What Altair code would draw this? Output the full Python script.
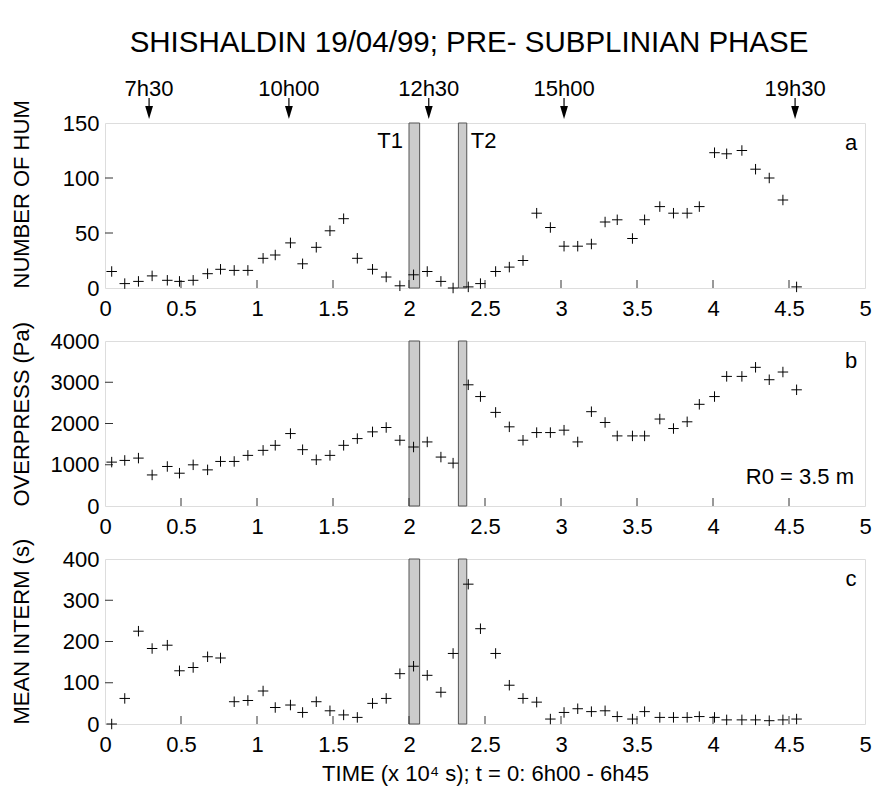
import altair as alt
import pandas as pd

title_text = "SHISHALDIN 19/04/99; PRE- SUBPLINIAN PHASE"
x_title = "TIME (x 10\u2074 s); t = 0: 6h00 - 6h45"

time_x = [0.044, 0.13, 0.22, 0.31, 0.41, 0.49, 0.58, 0.675, 0.76, 0.85,
          0.94, 1.04, 1.12, 1.22, 1.30, 1.39, 1.48, 1.57, 1.66, 1.76,
          1.85, 1.94, 2.03, 2.12, 2.21, 2.29, 2.39, 2.47, 2.57, 2.66,
          2.75, 2.84, 2.93, 3.02, 3.11, 3.20, 3.29, 3.37, 3.47, 3.55,
          3.65, 3.74, 3.83, 3.91, 4.01, 4.09, 4.19, 4.28, 4.37, 4.46,
          4.55]
n_hum = [15, 4, 6, 11, 7, 6, 7, 13, 17, 16,
         16, 27, 30, 41, 22, 37, 52, 63, 27, 17,
         10, 2, 12, 15, 6, 0, 1, 4, 15, 19,
         25, 68, 55, 38, 38, 40, 60, 62, 45, 62,
         74, 68, 68, 74, 123, 122, 125, 108, 100, 80,
         1]
overpress = [1064, 1105, 1161, 753, 958, 795, 998, 876, 1080, 1080,
             1227, 1349, 1471, 1756, 1365, 1120, 1227, 1471, 1634, 1797,
             1903, 1594, 1430, 1553, 1186, 1039, 2938, 2653, 2269, 1919,
             1594, 1780, 1780, 1838, 1553, 2286, 2025, 1699, 1699, 1699,
             2108, 1878, 2041, 2465, 2653, 3142, 3142, 3362, 3061, 3248,
             2817]
mean_interm = [0, 62, 225, 183, 191, 129, 137, 163, 160, 54,
               57, 80, 40, 46, 28, 54, 32, 22, 16, 50,
               62, 122, 140, 118, 77, 171, 339, 231, 171, 94,
               62, 53, 12, 28, 37, 30, 32, 18, 12, 30,
               16, 16, 16, 18, 16, 10, 10, 10, 8, 10,
               12]

band_start = [2.00, 2.325]
band_end = [2.07, 2.38]
band_names = ["T1", "T2"]
arrow_t = [0.29, 1.21, 2.13, 3.02, 4.54]
arrow_lbl = ["7h30", "10h00", "12h30", "15h00", "19h30"]
x_tick_vals = [0.5, 1, 1.5, 2, 2.5, 3, 3.5, 4, 4.5]
x_label_vals = [0, 0.5, 1, 1.5, 2, 2.5, 3, 3.5, 4, 4.5, 5]

FONT = "Liberation Sans"
W, H = 760, 165
PLUS = "M-1,0L1,0M0,-1L0,1"
ARROWHEAD = "M-0.6,-1L0.6,-1L0,1Z"
FS = 22

xscale = alt.Scale(domain=[0, 5], nice=False, zero=False)
one = pd.DataFrame({"a": [0]})
bands_df = pd.DataFrame({"s": band_start, "e": band_end, "n": band_names})
xt_df = pd.DataFrame({"t": x_tick_vals})


def x_axis(title):
    kw = dict(values=x_label_vals, ticks=False, domain=False, grid=False,
              labelFontSize=FS, labelFont=FONT, labelColor="black",
              labelPadding=10, labelFlush=False, labelOverlap=False, format="~g")
    if title:
        kw.update(title=title, titleFontSize=FS, titleFont=FONT,
                  titleFontWeight="normal", titleColor="black", titlePadding=8)
    else:
        kw["title"] = None
    return alt.Axis(**kw)


def y_axis(vals, title):
    return alt.Axis(values=vals, ticks=False, domain=False, grid=False,
                    labelFontSize=FS, labelFont=FONT, labelColor="black",
                    labelPadding=6, format="d",
                    title=title, titleFontSize=FS, titleFont=FONT,
                    titleFontWeight="normal", titleColor="black",
                    titleAngle=270, titleX=-84, titleY=H,
                    titleAlign="left", titleBaseline="middle")


def panel(values, ymax, ylabels, yticks, ytitle, letter, xtitle=None, top=False):
    xa = x_axis(xtitle)
    ya = y_axis(ylabels, ytitle)
    yscale = alt.Scale(domain=[0, ymax], nice=False, zero=True)

    def X(f):
        return alt.X(f, type="quantitative", scale=xscale, axis=xa)

    df = pd.DataFrame({"t": time_x, "v": values})
    bands = alt.Chart(bands_df).mark_rect(
        fill="#cccccc", stroke="#555555", strokeWidth=1
    ).encode(x=X("s"), x2="e:Q", y=alt.value(0), y2=alt.value(H))
    xt = alt.Chart(xt_df).mark_rule(color="#333333", strokeWidth=1).encode(
        x=X("t"), y=alt.value(H), y2=alt.value(H - 8))
    yt = alt.Chart(pd.DataFrame({"v": yticks})).mark_rule(
        color="#333333", strokeWidth=1).encode(
        y=alt.Y("v:Q", scale=yscale, axis=ya), x=alt.value(0), x2=alt.value(8))
    pts = alt.Chart(df).mark_point(
        shape=PLUS, size=110, filled=False, stroke="black", strokeWidth=1, opacity=1
    ).encode(x=X("t"), y=alt.Y("v:Q", scale=yscale, axis=ya))
    let = alt.Chart(one).mark_text(
        text=letter, font=FONT, fontSize=FS, align="center", baseline="alphabetic",
        color="black").encode(x=alt.value(746), y=alt.value(27))
    layers = [bands, xt, yt, pts, let]
    if top:
        t1 = alt.Chart(pd.DataFrame({"s": band_start[:1], "n": band_names[:1]})).mark_text(
            font=FONT, fontSize=FS, align="right", baseline="alphabetic", dx=-6, color="black"
        ).encode(x=X("s"), y=alt.value(25), text="n:N")
        t2 = alt.Chart(pd.DataFrame({"e": band_end[1:], "n": band_names[1:]})).mark_text(
            font=FONT, fontSize=FS, align="left", baseline="alphabetic", dx=4, color="black"
        ).encode(x=X("e"), y=alt.value(25), text="n:N")
        adf = pd.DataFrame({"t": arrow_t, "lbl": arrow_lbl})
        albl = alt.Chart(adf).mark_text(
            font=FONT, fontSize=FS, align="center", baseline="middle", color="black"
        ).encode(x=X("t"), y=alt.value(-34), text="lbl:N")
        aline = alt.Chart(adf).mark_rule(color="black", strokeWidth=1.2).encode(
            x=X("t"), y=alt.value(-25), y2=alt.value(-12))
        ahead = alt.Chart(adf).mark_point(
            shape=ARROWHEAD, size=169, filled=True, fill="black", strokeWidth=0, opacity=1
        ).encode(x=X("t"), y=alt.value(-10.5))
        ttl = alt.Chart(one).mark_text(
            text=title_text, font=FONT, fontSize=29.5, align="center", baseline="middle",
            color="black").encode(x=alt.value(364), y=alt.value(-80))
        layers += [t1, t2, albl, aline, ahead, ttl]
    if letter == "b":
        r0 = alt.Chart(one).mark_text(
            text="R0 = 3.5 m", font=FONT, fontSize=FS, align="right",
            baseline="alphabetic", color="black").encode(x=alt.value(749), y=alt.value(143))
        layers.append(r0)
    return alt.layer(*layers).properties(width=W, height=H)


pa = panel(n_hum, 150, [0, 50, 100, 150], [50, 100], "NUMBER OF HUM", "a", top=True)
pb = panel(overpress, 4000, [0, 1000, 2000, 3000, 4000], [1000, 2000, 3000],
           "OVERPRESS (Pa)", "b")
pc = panel(mean_interm, 400, [0, 100, 200, 300, 400], [100, 200, 300],
           "MEAN INTERM (s)", "c", xtitle=x_title)

chart = alt.vconcat(pa, pb, pc, spacing=53, bounds="flush").properties(
    padding={"left": 1, "top": 19, "right": 5, "bottom": 5}
).configure_view(stroke="#111111", strokeWidth=1.5).configure(font=FONT)

chart.save("out.html", embed_options={"renderer": "svg", "actions": False})
